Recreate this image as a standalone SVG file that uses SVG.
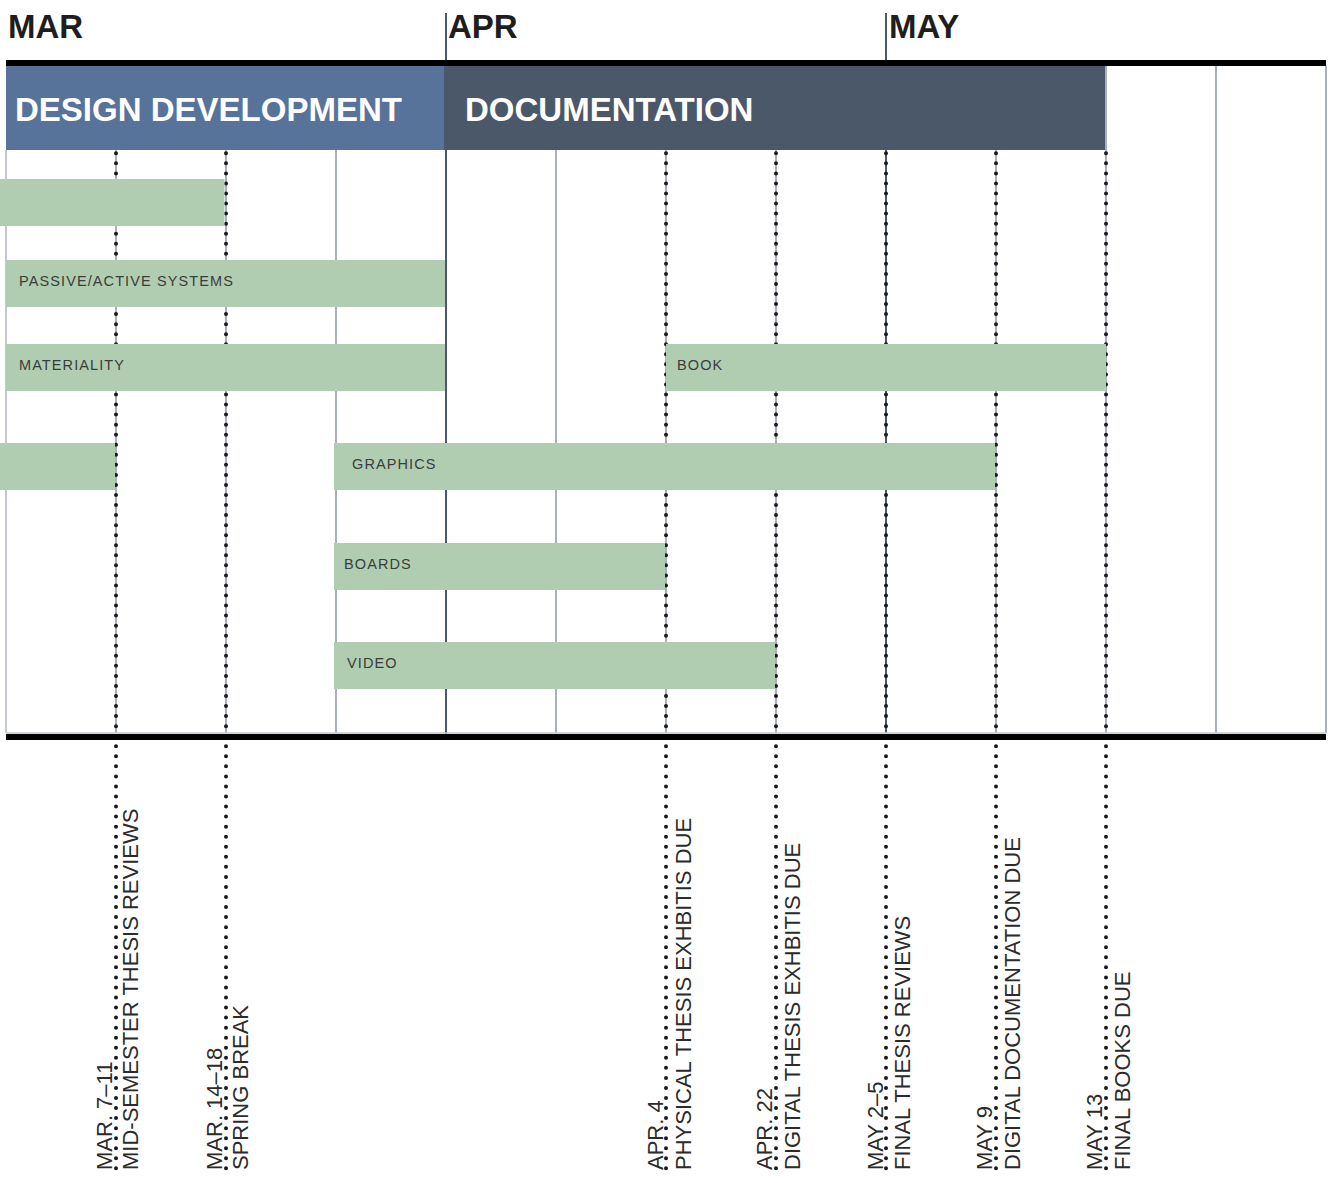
<svg xmlns="http://www.w3.org/2000/svg" width="1334" height="1183" viewBox="0 0 1334 1183">
  <style>
    .month { font-family: "Liberation Sans", Arial, sans-serif; font-weight: bold; font-size: 33px; fill: #1e1e1e; }
    .phase { font-family: "Liberation Sans", Arial, sans-serif; font-weight: bold; font-size: 33px; fill: #ffffff; }
    .task { font-family: "Liberation Sans", Arial, sans-serif; font-size: 14.5px; letter-spacing: 1.1px; fill: #3a3d3a; }
    .bar { fill: #b0cdb2; }
    .grid { stroke: #a9b0ba; stroke-width: 2; fill: none; }
    .edge { stroke: #c3c8ce; stroke-width: 2; fill: none; }
    .dark { stroke: #4b5869; stroke-width: 2; fill: none; }
    .dots { stroke: #1a1a1a; stroke-width: 4; stroke-linecap: round; stroke-dasharray: 0 10.05; fill: none; }
    .date { font-family: "Liberation Sans", Arial, sans-serif; font-size: 22px; fill: #2b2b2b; }
  </style>

  <!-- month headings and ticks -->
  <g id="months">
    <text class="month" x="8" y="38">MAR</text>
    <line class="dark" x1="446" y1="13" x2="446" y2="62"/>
    <text class="month" x="448" y="38">APR</text>
    <line class="dark" x1="886" y1="13" x2="886" y2="64"/>
    <text class="month" x="889" y="38">MAY</text>
  </g>

  <!-- phase bands -->
  <g id="phase-design-development">
    <rect x="6" y="66" width="438" height="84" fill="#57739a"/>
    <text class="phase" x="15" y="121">DESIGN DEVELOPMENT</text>
  </g>
  <g id="phase-documentation">
    <rect x="444" y="66" width="661" height="84" fill="#4b5869"/>
    <text class="phase" x="465" y="121">DOCUMENTATION</text>
  </g>

  <!-- weekly grid -->
  <g id="grid">
    <line class="edge" x1="6" y1="150" x2="6" y2="733"/>
    <line class="grid" x1="116" y1="150" x2="116" y2="733"/>
    <line class="grid" x1="226" y1="150" x2="226" y2="733"/>
    <line class="grid" x1="336" y1="150" x2="336" y2="733"/>
    <line class="grid" x1="556" y1="150" x2="556" y2="733"/>
    <line class="grid" x1="666" y1="150" x2="666" y2="733"/>
    <line class="grid" x1="776" y1="150" x2="776" y2="733"/>
    <line class="grid" x1="996" y1="150" x2="996" y2="733"/>
    <line class="grid" x1="1106" y1="66" x2="1106" y2="733"/>
    <line class="grid" x1="1216" y1="66" x2="1216" y2="733"/>
    <line class="grid" x1="1326" y1="66" x2="1326" y2="733"/>
    <line class="dark" x1="446" y1="62" x2="446" y2="738"/>
    <line class="dark" x1="886" y1="150" x2="886" y2="733"/>
    <line x1="6" y1="733" x2="1326" y2="733" stroke="#c3c8ce" stroke-width="1.5"/>
  </g>

  <!-- milestone markers -->
  <g id="connectors">
    <line class="dots" x1="116" y1="153.3" x2="116" y2="1170"/>
    <line class="dots" x1="226" y1="153.3" x2="226" y2="1170"/>
    <line class="dots" x1="666" y1="153.3" x2="666" y2="1170"/>
    <line class="dots" x1="776" y1="153.3" x2="776" y2="1170"/>
    <line class="dots" x1="886" y1="153.3" x2="886" y2="1170"/>
    <line class="dots" x1="996" y1="153.3" x2="996" y2="1170"/>
    <line class="dots" x1="1106" y1="153.3" x2="1106" y2="1170"/>
  </g>

  <!-- task bars -->
  <g id="task-early">
    <rect class="bar" x="0" y="179" width="224.5" height="47"/>
  </g>
  <g id="task-passive-active-systems">
    <rect class="bar" x="6" y="260" width="439" height="47"/>
    <text class="task" x="19" y="286">PASSIVE/ACTIVE SYSTEMS</text>
  </g>
  <g id="task-materiality">
    <rect class="bar" x="6" y="344" width="439" height="47"/>
    <text class="task" x="19" y="370">MATERIALITY</text>
  </g>
  <g id="task-book">
    <rect class="bar" x="666" y="344" width="440" height="47"/>
    <text class="task" x="677" y="370">BOOK</text>
  </g>
  <g id="task-early-2">
    <rect class="bar" x="0" y="443" width="115" height="47"/>
  </g>
  <g id="task-graphics">
    <rect class="bar" x="334" y="443" width="661" height="47"/>
    <text class="task" x="352" y="469">GRAPHICS</text>
  </g>
  <g id="task-boards">
    <rect class="bar" x="334" y="543" width="331" height="47"/>
    <text class="task" x="344" y="569">BOARDS</text>
  </g>
  <g id="task-video">
    <rect class="bar" x="334" y="642" width="441" height="47"/>
    <text class="task" x="347" y="668">VIDEO</text>
  </g>

  <!-- frame rules -->
  <g id="frame">
    <rect x="6" y="60" width="1320" height="6" fill="#000"/>
    <rect x="6" y="734" width="1320" height="6" fill="#000"/>
  </g>

  <!-- milestone labels, rotated to read upward -->
  <g id="milestone-mar-7">
    <text class="date" transform="translate(111.5,1170) rotate(-90)">MAR. 7–11</text>
    <text class="date" transform="translate(138,1170) rotate(-90)">MID-SEMESTER THESIS REVIEWS</text>
  </g>
  <g id="milestone-mar-14">
    <text class="date" transform="translate(221.7,1170) rotate(-90)">MAR. 14–18</text>
    <text class="date" transform="translate(248,1170) rotate(-90)">SPRING BREAK</text>
  </g>
  <g id="milestone-apr-4">
    <text class="date" transform="translate(663,1170) rotate(-90)">APR. 4</text>
    <text class="date" transform="translate(691,1170) rotate(-90)">PHYSICAL THESIS EXHBITIS DUE</text>
  </g>
  <g id="milestone-apr-22">
    <text class="date" transform="translate(772,1170) rotate(-90)">APR. 22</text>
    <text class="date" transform="translate(800,1170) rotate(-90)">DIGITAL THESIS EXHBITIS DUE</text>
  </g>
  <g id="milestone-may-2">
    <text class="date" transform="translate(882.5,1170) rotate(-90)">MAY 2–5</text>
    <text class="date" transform="translate(910,1170) rotate(-90)">FINAL THESIS REVIEWS</text>
  </g>
  <g id="milestone-may-9">
    <text class="date" transform="translate(992,1170) rotate(-90)">MAY 9</text>
    <text class="date" transform="translate(1020,1170) rotate(-90)">DIGITAL DOCUMENTATION DUE</text>
  </g>
  <g id="milestone-may-13">
    <text class="date" transform="translate(1102,1170) rotate(-90)">MAY 13</text>
    <text class="date" transform="translate(1130,1170) rotate(-90)">FINAL BOOKS DUE</text>
  </g>
</svg>
